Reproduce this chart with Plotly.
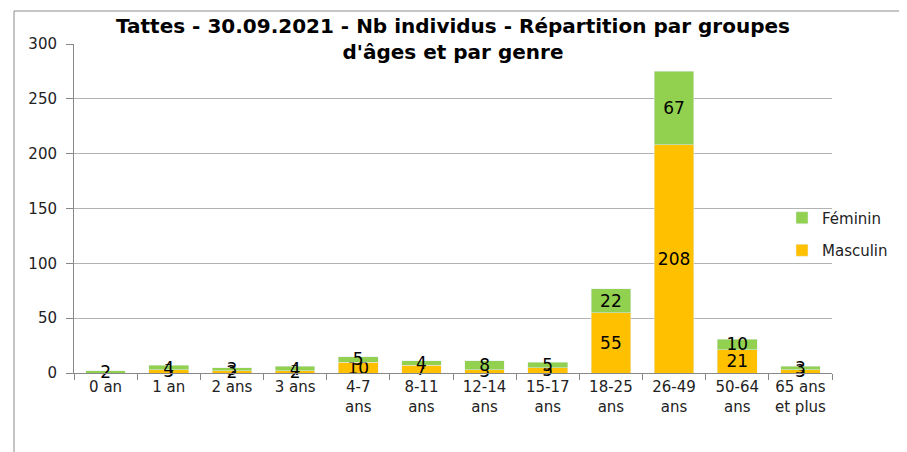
import plotly.graph_objects as go

categories = ["0 an", "1 an", "2 ans", "3 ans", "4-7<br>ans", "8-11<br>ans", "12-14<br>ans",
              "15-17<br>ans", "18-25<br>ans", "26-49<br>ans", "50-64<br>ans", "65 ans<br>et plus"]
masculin = [0, 3, 2, 2, 10, 7, 3, 5, 55, 208, 21, 3]
feminin = [2, 4, 3, 4, 5, 4, 8, 5, 22, 67, 10, 3]
y_ticks = [0, 50, 100, 150, 200, 250, 300]

OFF = 8  # page body margin
W, H = 907 - OFF, 452 - OFF
L, R, T, B = 74 - OFF, 832 - OFF, 44 - OFF, 373 - OFF

def lbl(vals):
    return [str(v) if v else "" for v in vals]

fig = go.Figure()
fig.add_trace(go.Bar(x=categories, y=masculin, name="Masculin", marker_color="#FFC000",
                     legendgroup="m", legendrank=2,
                     text=lbl(masculin), textposition="inside", insidetextanchor="middle",
                     textangle=0,
                     textfont=dict(color="black", size=17, family="DejaVu Sans"),
                     cliponaxis=False))
fig.add_trace(go.Bar(x=categories, y=feminin, name="Féminin", marker_color="#92D050",
                     legendgroup="f", legendrank=1,
                     text=lbl(feminin), textposition="inside", insidetextanchor="middle",
                     textangle=0,
                     textfont=dict(color="black", size=17, family="DejaVu Sans"),
                     cliponaxis=False))

def px_x(p):
    return (p - OFF - L) / (R - L)

def px_y(p):
    return (B - (p - OFF)) / (B - T)

fig.update_layout(
    barmode="stack",
    bargap=0.37,
    width=W, height=H,
    margin=dict(l=L, r=W - R, t=T, b=H - B, pad=0),
    paper_bgcolor="white", plot_bgcolor="white",
    font=dict(family="DejaVu Sans", size=15, color="#222"),
    title=dict(text="<b>Tattes - 30.09.2021 - Nb individus - Répartition par groupes<br>d'âges et par genre</b>",
               x=0.5, xanchor="center", xref="paper", y=1 - 25 / H, yanchor="top",
               font=dict(family="DejaVu Sans", size=20, color="black")),
    uniformtext=dict(minsize=17, mode="show"),
    legend=dict(x=px_x(782), y=px_y(234), xanchor="left", yanchor="middle",
                traceorder="grouped", font=dict(size=15, family="DejaVu Sans", color="#222"),
                bgcolor="rgba(0,0,0,0)", itemwidth=30, tracegroupgap=10),
    showlegend=True,
)
fig.update_xaxes(type="category", tickson="boundaries", ticks="outside", ticklen=6,
                 tickcolor="#888", showline=True, linecolor="#888", linewidth=1,
                 showgrid=False, tickfont=dict(size=15, color="#222"), fixedrange=True)
fig.update_yaxes(range=[0, 300], tickvals=y_ticks, ticks="outside", ticklen=7,
                 tickcolor="#888", showline=True, linecolor="#888", linewidth=1,
                 showgrid=True, gridcolor="#B3B3B3", gridwidth=1, zeroline=False,
                 tickfont=dict(size=15, color="#222"), ticklabelstandoff=6)

# chart frame (outer border partly visible)
fig.add_shape(type="rect", xref="paper", yref="paper",
              x0=px_x(14), x1=px_x(907 + 20), y0=px_y(452 + 20), y1=px_y(11),
              line=dict(color="#8C8C8C", width=1), fillcolor="rgba(0,0,0,0)", layer="below")

fig.write_html("out.html")
